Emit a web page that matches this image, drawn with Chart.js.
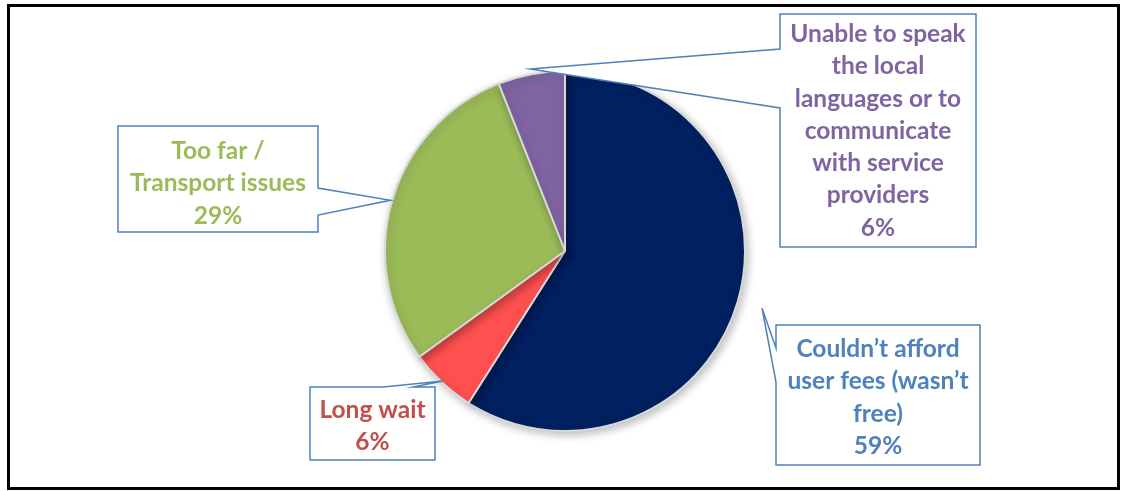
<!DOCTYPE html>
<html>
<head>
<meta charset="utf-8">
<script src="https://cdn.jsdelivr.net/npm/chart.js@4.4.1/dist/chart.umd.min.js"></script>
<style>
  html, body { margin: 0; padding: 0; background: #fff; }
  #wrap { width: 1128px; height: 491px; position: relative; }
</style>
</head>
<body>
<div id="wrap"><canvas id="pieChart" width="1128" height="491"></canvas></div>
<script>
// Data
const categories = [
    'Couldn’t afford user fees (wasn’t free)',
    'Long wait',
    'Too far / Transport issues',
    'Unable to speak the local languages or to communicate with service providers'
];
const shares = [59, 6, 29, 6];
const labelLines = [
    ['Couldn’t afford', 'user fees (wasn’t', 'free)'],
    ['Long wait'],
    ['Too far /', 'Transport issues'],
    ['Unable to speak', 'the local', 'languages or to', 'communicate', 'with service', 'providers']
];

const sliceColors = ['#002060', '#FF5050', '#9BBB59', '#8064A2'];
const textColors = ['#4F81BD', '#C0504D', '#9BBB59', '#8064A2'];

// Callout box layout (box edges, side the pointer leaves from, pointer base, tip distance factor)
const callouts = [
    { box: [776, 325, 980, 465], side: 'left', a1: 348, a2: 382, reach: 1.14, firstLine: 349 },
    { box: [310, 387, 435, 460], side: 'top', a1: 383, a2: 413, reach: 0.99, firstLine: 410 },
    { box: [118, 126, 318, 232], side: 'right', a1: 188, a2: 215, reach: 1.01, firstLine: 151 },
    { box: [780, 14, 976, 247], side: 'left', a1: 49, a2: 108, reach: 1.03, firstLine: 34 }
];

const lineHeight = 32.3;
const labelFont = 'bold 24.5px Lato, "Open Sans", sans-serif';

const framePlugin = {
    id: 'frame',
    beforeDraw(chart) {
        const ctx = chart.ctx;
        ctx.save();
        ctx.fillStyle = '#ffffff';
        ctx.fillRect(0, 0, chart.width, chart.height);
        ctx.strokeStyle = '#000000';
        ctx.lineWidth = 3;
        ctx.strokeRect(8.5, 5.5, 1110, 483);
        ctx.restore();
    }
};

const shadowPlugin = {
    id: 'pieShadow',
    beforeDatasetsDraw(chart) {
        const ctx = chart.ctx;
        ctx.save();
        ctx.shadowColor = 'rgba(0,0,0,0.25)';
        ctx.shadowBlur = 8;
        ctx.shadowOffsetX = 2;
        ctx.shadowOffsetY = 3;
    },
    afterDatasetsDraw(chart) {
        chart.ctx.restore();
    }
};

function calloutPath(ctx, c, tip) {
    const [l, t, r, b] = c.box;
    ctx.beginPath();
    if (c.side === 'right') {
        ctx.moveTo(l, t); ctx.lineTo(r, t); ctx.lineTo(r, c.a1);
        ctx.lineTo(tip.x, tip.y); ctx.lineTo(r, c.a2);
        ctx.lineTo(r, b); ctx.lineTo(l, b);
    } else if (c.side === 'top') {
        ctx.moveTo(l, t); ctx.lineTo(c.a1, t);
        ctx.lineTo(tip.x, tip.y); ctx.lineTo(c.a2, t);
        ctx.lineTo(r, t); ctx.lineTo(r, b); ctx.lineTo(l, b);
    } else {
        ctx.moveTo(l, t); ctx.lineTo(r, t); ctx.lineTo(r, b); ctx.lineTo(l, b);
        ctx.lineTo(l, c.a2); ctx.lineTo(tip.x, tip.y); ctx.lineTo(l, c.a1);
    }
    ctx.closePath();
}

const calloutPlugin = {
    id: 'callouts',
    afterDatasetsDraw(chart) {
        const ctx = chart.ctx;
        const meta = chart.getDatasetMeta(0);
        ctx.save();
        meta.data.forEach((arc, i) => {
            const p = arc.getProps(['x', 'y', 'startAngle', 'endAngle', 'outerRadius'], true);
            const mid = (p.startAngle + p.endAngle) / 2;
            const c = callouts[i];
            const tip = {
                x: p.x + Math.cos(mid) * p.outerRadius * c.reach,
                y: p.y + Math.sin(mid) * p.outerRadius * c.reach
            };
            calloutPath(ctx, c, tip);
            ctx.fillStyle = '#ffffff';
            ctx.fill();
            ctx.strokeStyle = '#4F81BD';
            ctx.lineWidth = 1.5;
            ctx.stroke();

            const lines = labelLines[i].concat([shares[i] + '%']);
            const cx = (c.box[0] + c.box[2]) / 2;
            ctx.fillStyle = textColors[i];
            ctx.font = labelFont;
            ctx.textAlign = 'center';
            ctx.textBaseline = 'middle';
            lines.forEach((ln, k) => {
                ctx.fillText(ln, cx, c.firstLine + k * lineHeight);
            });
        });
        ctx.restore();
    }
};

const ctx = document.getElementById('pieChart').getContext('2d');
new Chart(ctx, {
    type: 'pie',
    data: {
        labels: categories,
        datasets: [{
            data: shares,
            backgroundColor: sliceColors,
            borderColor: '#D9D9D9',
            borderWidth: 2
        }]
    },
    options: {
        responsive: false,
        animation: false,
        layout: {
            padding: { left: 384, right: 382, top: 70, bottom: 59 }
        },
        plugins: {
            legend: { display: false },
            tooltip: { enabled: false }
        }
    },
    plugins: [framePlugin, shadowPlugin, calloutPlugin]
});
</script>
</body>
</html>
